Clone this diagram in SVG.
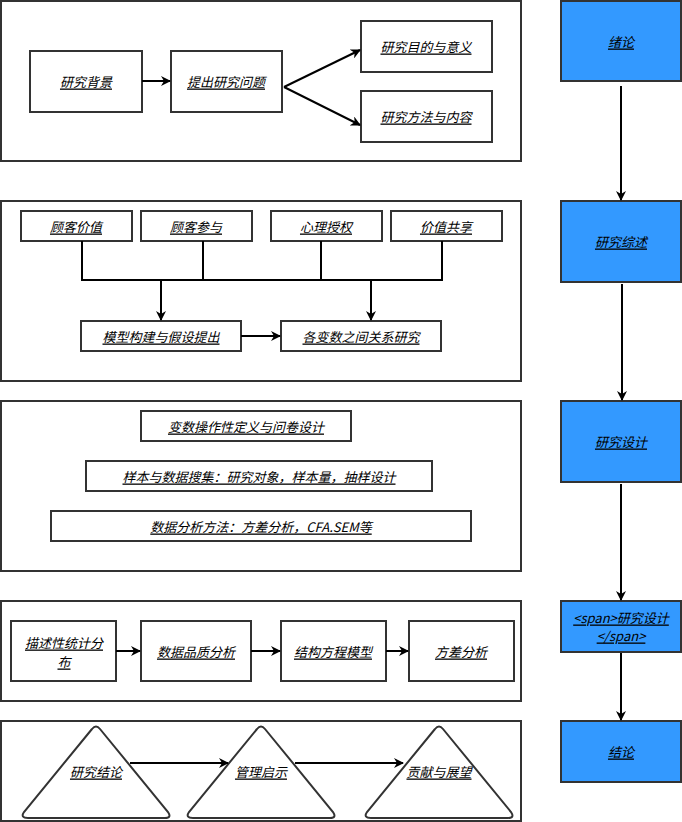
<svg xmlns="http://www.w3.org/2000/svg" width="682" height="822" viewBox="0 0 682 822">
<style>
.p{fill:#fff;stroke:#333;stroke-width:2}
.b{fill:#fff;stroke:#333;stroke-width:2}
.u{fill:#3399ff;stroke:#333;stroke-width:2}
text{font-family:"Noto Sans CJK SC","Liberation Serif",serif;font-size:13px;font-style:italic;text-decoration:underline;text-anchor:middle;dominant-baseline:central;fill:#000}
.c{fill:none;stroke:#000;stroke-width:2}
</style>
<defs><marker id="a" viewBox="0 0 10 10" refX="9" refY="5" markerWidth="5" markerHeight="5" orient="auto"><path d="M0,0L10,5L0,10L3,5z" fill="#000"/></marker></defs>
<rect class="p" x="1" y="1" width="520" height="160"/>
<rect class="p" x="1" y="201" width="520" height="180"/>
<rect class="p" x="1" y="401" width="520" height="170"/>
<rect class="p" x="1" y="601" width="520" height="100"/>
<rect class="p" x="1" y="721" width="520" height="100"/>
<g id="n1"><rect class="b" x="30" y="51" width="112" height="61"/><text x="86" y="81">研究背景</text></g>
<g id="n2"><rect class="b" x="171" y="51" width="111" height="61"/><text x="226" y="81">提出研究问题</text></g>
<g id="n3"><rect class="b" x="361" y="21" width="131" height="51"/><text x="426" y="46">研究目的与意义</text></g>
<g id="n4"><rect class="b" x="361" y="91" width="131" height="51"/><text x="426" y="116">研究方法与内容</text></g>
<g id="n5"><rect class="b" x="21" y="211" width="111" height="30"/><text x="76" y="226">顾客价值</text></g>
<g id="n6"><rect class="b" x="141" y="211" width="111" height="30"/><text x="196" y="226">顾客参与</text></g>
<g id="n7"><rect class="b" x="271" y="211" width="111" height="30"/><text x="326" y="226">心理授权</text></g>
<g id="n8"><rect class="b" x="391" y="211" width="111" height="30"/><text x="446" y="226">价值共享</text></g>
<g id="n9"><rect class="b" x="81" y="321" width="160" height="30"/><text x="161" y="336">模型构建与假设提出</text></g>
<g id="n10"><rect class="b" x="281" y="321" width="160" height="30"/><text x="361" y="336">各变数之间关系研究</text></g>
<g id="n11"><rect class="b" x="141" y="411" width="210" height="30"/><text x="246" y="426">变数操作性定义与问卷设计</text></g>
<g id="n12"><rect class="b" x="86" y="461" width="346" height="30"/><text x="259" y="476">样本与数据搜集：研究对象，样本量，抽样设计</text></g>
<g id="n13"><rect class="b" x="51" y="511" width="420" height="30"/><text x="261" y="526">数据分析方法：方差分析，CFA.SEM等</text></g>
<g id="n14"><rect class="b" x="11" y="621" width="105" height="60"/><text x="64" y="642">描述性统计分</text><text x="64" y="661">布</text></g>
<g id="n15"><rect class="b" x="141" y="621" width="110" height="60"/><text x="196" y="651">数据品质分析</text></g>
<g id="n16"><rect class="b" x="281" y="621" width="105" height="60"/><text x="333" y="651">结构方程模型</text></g>
<g id="n17"><rect class="b" x="409" y="621" width="105" height="60"/><text x="461" y="651">方差分析</text></g>
<g id="n18"><path class="b" d="M92,729Q96,724 100,729L168,812Q172,818 165,818L28,818Q20,818 24,812Z"/><text x="96" y="771">研究结论</text></g>
<g id="n19"><path class="b" d="M257,729Q261,724 265,729L333,812Q337,818 330,818L193,818Q185,818 189,812Z"/><text x="261" y="771">管理启示</text></g>
<g id="n20"><path class="b" d="M435,729Q439,724 443,729L511,812Q515,818 508,818L371,818Q363,818 367,812Z"/><text x="439" y="771">贡献与展望</text></g>
<g id="s1"><rect class="u" x="561" y="1" width="120" height="80"/><text x="621" y="41">绪论</text></g>
<g id="s2"><rect class="u" x="561" y="201" width="120" height="81"/><text x="621" y="241">研究综述</text></g>
<g id="s3"><rect class="u" x="561" y="401" width="120" height="81"/><text x="621" y="441">研究设计</text></g>
<g id="s4"><rect class="u" x="561" y="601" width="120" height="51"/><text x="621" y="617">&lt;span&gt;研究设计</text><text x="621" y="635">&lt;/span&gt;</text></g>
<g id="s5"><rect class="u" x="561" y="721" width="120" height="61"/><text x="621" y="751">结论</text></g>
<g id="connectors">
<path class="c" marker-end="url(#a)" d="M142,81H170"/>
<path class="c" marker-end="url(#a)" d="M284,87L360,50"/>
<path class="c" marker-end="url(#a)" d="M284,87L360,125"/>
<path class="c" d="M82,241V280H442V241M203,241V280M321,241V280"/>
<path class="c" marker-end="url(#a)" d="M161,280V320"/>
<path class="c" marker-end="url(#a)" d="M371,280V320"/>
<path class="c" marker-end="url(#a)" d="M241,336H280"/>
<path class="c" marker-end="url(#a)" d="M116,651H140"/>
<path class="c" marker-end="url(#a)" d="M251,651H280"/>
<path class="c" marker-end="url(#a)" d="M386,651H408"/>
<path class="c" marker-end="url(#a)" d="M130,763H228"/>
<path class="c" marker-end="url(#a)" d="M295,763H403"/>
<path class="c" marker-end="url(#a)" d="M621,86V200"/>
<path class="c" marker-end="url(#a)" d="M622,284V400"/>
<path class="c" marker-end="url(#a)" d="M621,484V600"/>
<path class="c" marker-end="url(#a)" d="M621,653V720"/>
</g>
</svg>
